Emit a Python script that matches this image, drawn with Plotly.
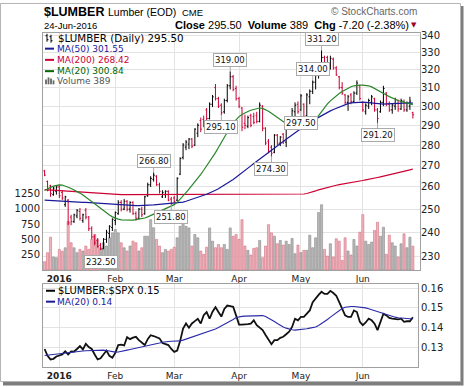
import numpy as np
import pandas as pd
import plotly.graph_objects as go

W, H = 464, 387
def px(x): return x / W
def py(y): return 1 - y / H

# ---------------- data ----------------
days = pd.bdate_range("2015-12-24", "2016-06-24")
holidays = pd.to_datetime(["2015-12-25", "2016-01-01", "2016-01-18",
                           "2016-02-15", "2016-03-25", "2016-05-30"])
days = days[~days.isin(holidays)]
DATES = [d.strftime("%Y-%m-%d") for d in days]

OPEN = [267.5, 262.5, 260.5, 256.5, 258.0, 260.0, 257.5, 252.0, 254.0, 246.5,
        244.5, 247.0, 249.0, 245.0, 249.5, 246.5, 241.5, 238.0, 236.5, 234.5,
        233.0, 237.0, 239.5, 242.0, 245.0, 248.0, 253.0, 250.0, 253.5, 250.0,
        253.0, 248.0, 246.0, 250.0, 248.0, 256.0, 261.0, 263.5, 265.0, 261.0,
        255.5, 256.5, 258.0, 254.5, 255.0, 254.0, 266.0, 274.0, 279.0, 280.5,
        283.0, 280.0, 286.0, 292.5, 293.0, 298.0, 293.5, 301.0, 310.0, 304.0,
        300.5, 297.0, 303.0, 311.0, 316.0, 309.5, 304.0, 299.0, 291.0, 289.5,
        295.0, 294.5, 295.0, 292.0, 300.0, 288.5, 282.0, 279.0, 276.5, 285.0,
        281.0, 285.5, 281.5, 290.0, 292.0, 297.0, 301.0, 298.0, 301.0, 295.0,
        305.0, 308.0, 313.0, 320.0, 323.0, 327.0, 327.0, 322.0, 326.0, 321.0,
        316.0, 310.0, 306.0, 302.0, 306.0, 302.5, 307.0, 311.0, 302.0, 297.0,
        300.0, 302.0, 304.0, 298.0, 297.0, 302.0, 307.0, 301.0, 298.0, 300.0,
        303.0, 298.5, 302.5, 298.0, 300.0, 296.5]
HIGH = [268.0, 263.0, 261.0, 260.0, 260.5, 261.0, 258.5, 256.0, 254.5, 247.5,
        248.0, 250.0, 250.5, 248.0, 250.5, 247.0, 242.5, 239.0, 237.5, 235.5,
        237.5, 241.0, 243.0, 246.0, 249.0, 254.0, 254.0, 254.5, 254.0, 253.5,
        253.5, 249.0, 250.5, 251.0, 256.0, 262.0, 265.0, 266.8, 265.5, 262.0,
        258.5, 258.5, 258.5, 255.5, 256.0, 264.5, 274.0, 281.0, 282.5, 283.5,
        283.5, 288.5, 291.0, 294.0, 295.0, 299.0, 302.0, 306.0, 312.0, 305.0,
        301.5, 304.0, 312.0, 319.0, 317.0, 311.0, 305.0, 299.5, 295.5, 295.0,
        296.0, 296.5, 297.0, 302.0, 300.5, 289.0, 283.0, 280.0, 285.5, 285.5,
        284.5, 286.0, 292.0, 293.5, 299.0, 302.0, 302.5, 306.5, 301.5, 307.0,
        309.0, 314.0, 322.0, 324.0, 331.2, 328.0, 328.0, 328.0, 327.0, 322.0,
        316.5, 313.0, 306.5, 306.0, 307.0, 308.0, 314.0, 311.5, 302.5, 301.5,
        304.0, 306.0, 304.5, 299.0, 303.0, 311.0, 307.5, 302.5, 301.5, 304.5,
        303.5, 304.0, 303.5, 302.5, 305.0, 297.0]
LOW = [265.0, 258.0, 255.5, 256.0, 256.5, 255.0, 254.0, 251.0, 243.0, 243.0,
       244.0, 246.0, 245.0, 244.0, 245.5, 240.5, 237.0, 234.5, 233.5, 232.5,
       233.0, 235.5, 237.5, 240.5, 243.0, 247.5, 249.0, 249.5, 249.0, 248.5,
       247.5, 245.0, 245.5, 246.5, 247.5, 255.5, 260.0, 262.5, 260.5, 257.0,
       255.0, 255.0, 253.5, 251.8, 252.5, 253.5, 265.5, 273.0, 277.5, 278.0,
       278.5, 279.5, 284.0, 286.5, 289.0, 292.0, 293.0, 299.5, 303.0, 299.0,
       295.1, 296.0, 302.0, 309.0, 308.0, 303.0, 299.0, 287.0, 288.0, 288.5,
       289.0, 290.5, 291.0, 291.5, 287.0, 280.0, 276.0, 274.3, 276.0, 280.0,
       279.5, 280.5, 279.0, 288.5, 291.0, 293.0, 296.0, 297.5, 293.5, 294.5,
       301.0, 306.5, 309.0, 315.0, 318.4, 318.0, 321.0, 320.0, 320.0, 316.5,
       309.0, 306.0, 301.0, 297.5, 301.0, 302.0, 306.0, 303.0, 297.0, 295.5,
       298.5, 300.5, 297.0, 291.2, 296.5, 300.0, 300.0, 297.0, 296.0, 298.0,
       297.0, 298.0, 297.0, 297.0, 298.0, 293.5]
CLOSE = [265.5, 258.5, 257.0, 259.5, 260.0, 256.0, 255.0, 255.5, 244.0, 244.5,
         247.5, 249.5, 246.0, 247.5, 246.5, 241.5, 238.0, 235.5, 234.0, 233.0,
         237.0, 240.0, 242.5, 245.5, 248.5, 253.0, 250.0, 253.5, 250.0, 253.0,
         248.0, 246.0, 250.0, 247.5, 255.5, 261.0, 264.0, 265.5, 261.0, 258.0,
         257.5, 258.0, 254.0, 252.5, 253.5, 264.0, 273.5, 280.0, 281.5, 283.0,
         279.5, 288.0, 290.0, 288.0, 290.0, 293.5, 301.0, 305.0, 304.0, 300.0,
         296.5, 303.0, 311.0, 316.0, 309.0, 304.0, 300.0, 289.0, 290.0, 294.0,
         290.0, 291.5, 292.0, 300.5, 288.5, 281.0, 277.0, 276.0, 285.0, 281.0,
         284.0, 282.0, 290.5, 292.5, 297.5, 300.5, 297.0, 305.5, 294.5, 306.0,
         308.0, 313.0, 321.0, 323.0, 327.0, 320.0, 322.0, 326.5, 321.0, 317.0,
         310.0, 307.0, 302.0, 305.0, 302.5, 307.0, 312.5, 304.0, 298.0, 300.5,
         303.0, 305.0, 298.0, 293.5, 302.0, 309.5, 301.0, 298.0, 300.5, 303.5,
         298.5, 303.0, 298.0, 301.5, 302.7, 295.5]
VOLUME = [135, 282, 535, 211, 200, 336, 306, 362, 795, 444,
          362, 282, 336, 309, 390, 336, 499, 580, 499, 362,
          444, 390, 525, 606, 660, 606, 444, 362, 309, 390,
          471, 444, 309, 362, 552, 552, 822, 690, 499, 390,
          282, 336, 309, 336, 372, 525, 714, 795, 714, 687,
          390, 579, 525, 309, 255, 372, 687, 471, 363, 417,
          363, 417, 336, 687, 552, 579, 500, 822, 390, 320,
          244, 352, 363, 482, 200, 390, 741, 606, 552, 428,
          482, 406, 471, 417, 514, 266, 406, 284, 320, 320,
          568, 363, 525, 941, 1066, 335, 227, 428, 211, 509,
          471, 156, 525, 309, 244, 498, 390, 617, 904, 471,
          417, 455, 644, 779, 552, 698, 255, 568, 444, 390,
          211, 428, 590, 363, 536, 389]
MA20 = [258.4, 259.2, 259.8, 260.4, 260.8, 261.0, 260.9, 260.5, 259.9, 259.3,
        258.7, 258.0, 257.2, 256.3, 255.4, 254.4, 253.4, 252.4, 251.4, 250.3,
        249.3, 248.3, 247.4, 246.6, 246.0, 245.6, 245.3, 245.2, 245.1, 245.1,
        245.2, 245.4, 245.6, 245.8, 246.1, 246.6, 247.2, 247.9, 248.5, 249.0,
        249.5, 250.0, 250.6, 251.3, 252.0, 253.0, 254.3, 255.8, 257.4, 259.0,
        260.6, 262.3, 264.0, 265.9, 267.8, 269.8, 271.8, 274.0, 276.3, 278.8,
        281.4, 284.0, 286.5, 289.0, 291.2, 293.0, 294.5, 295.6, 296.5, 297.2,
        297.8, 298.3, 298.7, 299.0, 298.8, 298.2, 297.3, 296.3, 295.2, 294.0,
        292.8, 291.6, 290.6, 289.8, 289.2, 288.9, 288.8, 289.0, 289.5, 290.2,
        291.0, 292.0, 293.0, 295.0, 297.2, 299.3, 301.2, 302.8, 304.3, 305.6,
        306.8, 307.9, 308.9, 309.8, 310.5, 311.0, 311.3, 311.4, 311.4, 311.3,
        311.0, 310.4, 309.6, 308.7, 307.8, 306.9, 306.0, 305.1, 304.3, 303.6,
        303.0, 302.5, 302.0, 301.6, 301.2, 300.84]
MA50 = [254.0, 253.9, 253.8, 253.7, 253.6, 253.5, 253.5, 253.4, 253.3, 253.2,
        253.2, 253.1, 253.1, 253.0, 253.0, 252.9, 252.9, 252.8, 252.7, 252.6,
        252.5, 252.4, 252.3, 252.2, 252.1, 252.0, 251.9, 251.8, 251.8, 251.7,
        251.7, 251.6, 251.6, 251.6, 251.6, 251.7, 251.8, 251.9, 252.0, 252.1,
        252.2, 252.3, 252.4, 252.4, 252.5, 252.6, 252.8, 253.1, 253.5, 253.9,
        254.3, 254.7, 255.2, 255.7, 256.2, 256.7, 257.2, 257.8, 258.5, 259.2,
        260.0, 260.8, 261.7, 262.6, 263.5, 264.5, 265.5, 266.6, 267.7, 268.8,
        269.9, 271.0, 272.1, 273.2, 274.2, 275.2, 276.3, 277.4, 278.5, 279.6,
        280.7, 281.8, 282.9, 284.0, 285.1, 286.2, 287.3, 288.4, 289.5, 290.5,
        291.5, 292.4, 293.3, 294.2, 295.1, 295.9, 296.7, 297.5, 298.2, 298.9,
        299.6, 300.2, 300.8, 301.3, 301.7, 301.9, 302.0, 302.1, 302.1, 302.0,
        301.8, 301.6, 301.4, 301.2, 301.1, 301.1, 301.2, 301.3, 301.4, 301.5,
        301.6, 301.7, 301.8, 301.8, 301.7, 301.55]
MA200 = [258.8, 258.7, 258.6, 258.5, 258.4, 258.3, 258.2, 258.1, 258.0, 257.9,
         257.8, 257.7, 257.6, 257.5, 257.4, 257.3, 257.2, 257.1, 257.0, 256.9,
         256.8, 256.7, 256.6, 256.6, 256.5, 256.5, 256.5, 256.5, 256.5, 256.5,
         256.5, 256.5, 256.5, 256.5, 256.5, 256.5, 256.5, 256.5, 256.5, 256.5,
         256.5, 256.6, 256.6, 256.6, 256.6, 256.6, 256.6, 256.6, 256.6, 256.6,
         256.6, 256.6, 256.6, 256.6, 256.6, 256.6, 256.6, 256.6, 256.6, 256.6,
         256.6, 256.7, 256.7, 256.7, 256.7, 256.7, 256.7, 256.7, 256.7, 256.7,
         256.7, 256.7, 256.7, 256.7, 256.7, 256.7, 256.7, 256.7, 256.7, 256.7,
         256.7, 256.8, 256.8, 256.8, 256.8, 256.8, 256.8, 256.8, 256.8, 257.0,
         257.3, 257.7, 258.2, 258.7, 259.1, 259.5, 259.9, 260.2, 260.5, 260.8,
         261.1, 261.3, 261.5, 261.8, 262.0, 262.3, 262.5, 262.8, 263.0, 263.3,
         263.5, 263.8, 264.1, 264.4, 264.7, 265.0, 265.3, 265.6, 265.9, 266.3,
         266.6, 267.0, 267.3, 267.7, 268.0, 268.42]
RATIO = [.1290, .1255, .1237, .1240, .1252, .1258, .1262, .1278, .1262, .1278,
         .1277, .1290, .1305, .1288, .1316, .1300, .1290, .1262, .1237, .1243,
         .1262, .1282, .1255, .1245, .1270, .1310, .1312, .1308, .1350, .1340,
         .1348, .1352, .1335, .1320, .1310, .1340, .1360, .1356, .1350, .1344,
         .1320, .1314, .1310, .1290, .1275, .1282, .1330, .1394, .1420, .1398,
         .1420, .1432, .1444, .1420, .1462, .1478, .1444, .1480, .1503, .1478,
         .1455, .1494, .1511, .1508, .1505, .1461, .1414, .1414, .1414, .1416,
         .1419, .1436, .1411, .1400, .1386, .1361, .1335, .1314, .1335, .1335,
         .1347, .1352, .1365, .1378, .1402, .1444, .1436, .1453, .1453, .1469,
         .1486, .1528, .1548, .1565, .1581, .1570, .1570, .1586, .1575, .1561,
         .1528, .1494, .1461, .1453, .1453, .1486, .1478, .1428, .1411, .1425,
         .1444, .1436, .1419, .1386, .1428, .1469, .1461, .1448, .1444, .1443,
         .1441, .1444, .1428, .1431, .1431, .1452]
RATIO_MA20 = [.1257, .1259, .1261, .1263, .1265, .1267, .1269, .1271, .1273, .1274,
              .1275, .1276, .1278, .1280, .1281, .1282, .1283, .1284, .1285, .1285,
              .1284, .1282, .1279, .1276, .1274, .1275, .1277, .1280, .1284, .1287,
              .1290, .1293, .1296, .1299, .1302, .1305, .1308, .1312, .1316, .1320,
              .1324, .1327, .1328, .1329, .1329, .1330, .1331, .1335, .1340, .1345,
              .1350, .1355, .1360, .1365, .1370, .1375, .1381, .1386, .1392, .1399,
              .1407, .1415, .1422, .1429, .1440, .1450, .1455, .1456, .1457, .1458,
              .1459, .1460, .1461, .1461, .1460, .1455, .1448, .1440, .1430, .1420,
              .1410, .1402, .1396, .1391, .1388, .1386, .1387, .1388, .1390, .1393,
              .1396, .1399, .1402, .1410, .1419, .1428, .1440, .1452, .1464, .1476,
              .1487, .1496, .1502, .1505, .1506, .1506, .1505, .1504, .1502, .1499,
              .1495, .1490, .1485, .1480, .1475, .1469, .1464, .1460, .1456, .1452,
              .1449, .1447, .1446, .1445, .1444, .1444]

HIGH_LABELS = [331.2, 319.0, 314.0, 266.8]
LOW_LABELS = [297.5, 291.2, 295.1, 274.3, 251.8, 232.5]
PRICE_TICKS = [230, 240, 250, 260, 270, 280, 290, 300, 310, 320, 330, 340]
VOL_TICKS = [250, 500, 750, 1000, 1250]
RATIO_TICKS = [0.13, 0.14, 0.15, 0.16]
MONTH_LABELS = ["<b>2016</b>", "Feb", "Mar", "Apr", "May", "Jun"]

n = len(DATES)
for arr in (OPEN, HIGH, LOW, CLOSE, VOLUME, MA20, MA50, MA200, RATIO, RATIO_MA20):
    assert len(arr) == n, (len(arr), n)

month_ticks = []
for m in range(1, 7):
    month_ticks.append(next(d for d in DATES if d.startswith("2016-%02d" % m)))

# ---------------- styles ----------------
RED = "#cc0033"
NAVY = "#1a1a99"
GREEN = "#2a862a"
GRID = "#e3e3e3"
FRAME = "#a0a0a0"
FONT = "DejaVu Sans"
HFONT = "Liberation Sans"

down = [c < o for o, c in zip(OPEN, CLOSE)]
vol_fill = ["#efb3bd" if d else "#b9b9b9" for d in down]
vol_edge = ["#d4707f" if d else "#8a8a8a" for d in down]

fig = go.Figure()
fig.add_trace(go.Bar(x=DATES, y=VOLUME, width=0.72,
                     marker=dict(color=vol_fill, line=dict(color=vol_edge, width=0.6)),
                     xaxis="x", yaxis="y", hoverinfo="skip"))
fig.add_trace(go.Ohlc(x=DATES, open=OPEN, high=HIGH, low=LOW, close=CLOSE,
                      increasing=dict(line=dict(color="#000000", width=1)),
                      decreasing=dict(line=dict(color=RED, width=1)),
                      tickwidth=0.4, xaxis="x", yaxis="y2"))
fig.add_trace(go.Scatter(x=DATES, y=MA200, mode="lines", line=dict(color=RED, width=1.2),
                         xaxis="x", yaxis="y2"))
fig.add_trace(go.Scatter(x=DATES, y=MA50, mode="lines", line=dict(color=NAVY, width=1.2),
                         xaxis="x", yaxis="y2"))
fig.add_trace(go.Scatter(x=DATES, y=MA20, mode="lines", line=dict(color=GREEN, width=1.2),
                         xaxis="x", yaxis="y2"))
fig.add_trace(go.Scatter(x=DATES, y=RATIO, mode="lines", line=dict(color="#111111", width=1.8),
                         xaxis="x2", yaxis="y3"))
fig.add_trace(go.Scatter(x=DATES, y=RATIO_MA20, mode="lines", line=dict(color="#2a2aa8", width=1.1),
                         xaxis="x2", yaxis="y3"))

xr_main = [-0.543, 127.42]
xr_low = [-0.543, 126.74]
common_x = dict(type="category", tickvals=month_ticks, ticktext=MONTH_LABELS,
                showgrid=True, gridcolor=GRID, gridwidth=1, showline=True, mirror=True,
                linecolor=FRAME, linewidth=1, ticks="", zeroline=False,
                tickfont=dict(family=FONT, size=9, color="#222222"))

fig.update_layout(
    width=W, height=H, margin=dict(l=0, r=0, t=0, b=0),
    paper_bgcolor="white", plot_bgcolor="rgba(0,0,0,0)", showlegend=False,
    xaxis=dict(domain=[px(43), px(420)], range=xr_main, anchor="y",
               rangeslider=dict(visible=False), **common_x),
    yaxis=dict(domain=[py(269), py(30)], range=[0, 3880], side="left",
               tickvals=VOL_TICKS, showgrid=False, showline=True, mirror=True,
               linecolor=FRAME, zeroline=False, ticks="",
               tickfont=dict(family=FONT, size=10, color="#222222")),
    yaxis2=dict(overlaying="y", side="right", type="log", anchor="x",
                range=[np.log10(224.5), np.log10(341.6)], tickvals=PRICE_TICKS,
                showgrid=True, gridcolor=GRID, showline=False, zeroline=False, ticks="",
                tickfont=dict(family=FONT, size=10, color="#222222")),
    xaxis2=dict(domain=[px(43), px(418)], range=xr_low, anchor="y3", **common_x),
    yaxis3=dict(domain=[py(367.3), py(283.3)], range=[0.1196, 0.16202], side="right",
                anchor="x2", tickvals=RATIO_TICKS, ticktext=["%.2f" % v for v in RATIO_TICKS],
                showgrid=True, gridcolor=GRID, showline=True, mirror=True, linecolor=FRAME,
                zeroline=False, ticks="",
                tickfont=dict(family=FONT, size=10, color="#222222")),
)

ann = []
def label(i, v, off):
    ann.append(dict(x=DATES[i], y=np.log10(v), xref="x", yref="y2", text="%.2f" % v,
                    showarrow=True, ax=0, ay=off, arrowhead=0, arrowwidth=1,
                    arrowcolor="#aaaaaa", bgcolor="white", bordercolor="#aaaaaa",
                    borderwidth=1, borderpad=1,
                    font=dict(family=FONT, size=8.5, color="#111111")))
for v in HIGH_LABELS:
    label(HIGH.index(v), v, -11)
for v in LOW_LABELS:
    label(LOW.index(v), v, 12)

def txt(x, y, s, size=10, color="#000", family=FONT, xanchor="left"):
    ann.append(dict(x=px(x), y=py(y), xref="paper", yref="paper", text=s, showarrow=False,
                    xanchor=xanchor, yanchor="middle",
                    font=dict(family=family, size=size, color=color)))

# header
txt(42, 9, "<b>$LUMBER</b>", 12.5, "#000", HFONT)
txt(106, 9.5, "Lumber (EOD)", 10.5, "#000", HFONT)
txt(180, 10, "CME", 9.5, "#000", HFONT)
txt(419, 9, "\u00a9 StockCharts.com", 10, "#666666", HFONT, "right")
txt(42, 22.5, "24-Jun-2016", 9.5, "#000", HFONT)
chg = CLOSE[-1] - CLOSE[-2]
pct = chg / CLOSE[-2] * 100
txt(411, 22.5, "<b>Close</b> %.2f  <b>Volume</b> %d  <b>Chg</b> %.2f (%.2f%%)"
    % (CLOSE[-1], VOLUME[-1], chg, pct), 11, "#000", HFONT, "right")
txt(419, 22.5, "\u25bc", 7, "#990033", FONT, "right")

# main legend
txt(56, 35.3, "$LUMBER (Daily) %.2f" % CLOSE[-1], 10.3, "#000")
txt(55, 46, "MA(50) %.2f" % MA50[-1], 9, NAVY)
txt(55, 57.3, "MA(200) %.2f" % MA200[-1], 9, RED)
txt(55, 68.7, "MA(20) %.2f" % MA20[-1], 9, "#006600")
txt(55, 78.7, "Volume %d" % VOLUME[-1], 9, "#555555")
# lower legend
txt(56, 290, "$LUMBER:$SPX %.2f" % RATIO[-1], 10, "#000")
txt(55, 301, "MA(20) %.2f" % RATIO_MA20[-1], 9, NAVY)
fig.update_layout(annotations=ann)

shapes = [
    dict(type="rect", xref="paper", yref="paper", x0=px(3), x1=px(463.5), y0=py(385.5), y1=py(3),
         fillcolor="#7d7d7d", line=dict(width=0), layer="below"),
    dict(type="rect", xref="paper", yref="paper", x0=px(0.5), x1=px(460.5), y0=py(381.5), y1=py(0.5),
         fillcolor="white", line=dict(color="#b5b5b5", width=1), layer="below"),
]
def seg(x0, y0, x1, y1, color, w=2):
    shapes.append(dict(type="line", xref="paper", yref="paper", x0=px(x0), y0=py(y0),
                       x1=px(x1), y1=py(y1), line=dict(color=color, width=w)))
seg(45, 46, 54, 46, NAVY)
seg(45, 57.3, 54, 57.3, RED)
seg(45, 68.7, 54, 68.7, "#006600")
seg(46, 290, 55, 290, "#000")
seg(46, 301, 55, 301, NAVY)
# small ohlc icon
seg(47, 31, 47, 39, "#000", 1); seg(45.5, 33, 47, 33, "#000", 1); seg(47, 37, 48.5, 37, "#000", 1)
seg(51, 32, 51, 40, "#000", 1); seg(49.5, 34, 51, 34, "#000", 1); seg(51, 38, 52.5, 38, "#000", 1)
# small volume icon
for xx, top in ((46, 77), (48.5, 75), (51, 76), (53.5, 78)):
    seg(xx, 82, xx, top, "#666666", 1.8)
fig.update_layout(shapes=shapes)

fig.write_html("out.html", config={"displayModeBar": False},
               post_script="document.body.style.margin='0';document.body.style.padding='0';"
                           "document.documentElement.style.margin='0';")
